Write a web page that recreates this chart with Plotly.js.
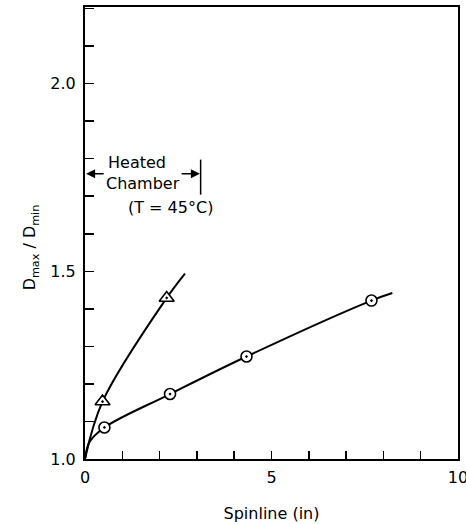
<!DOCTYPE html>
<html>
<head>
<meta charset="utf-8">
<script src="https://cdn.plot.ly/plotly-3.0.1.min.js"></script>
<style>html,body{margin:0;padding:0;background:#fff;}</style>
</head>
<body>
<div id="chart" style="width:466px;height:524px;"></div>
<script>
const triX = [0.47, 2.19];
const triY = [1.153, 1.429];
const circX = [0.52, 2.28, 4.33, 7.68];
const circY = [1.084, 1.173, 1.273, 1.422];
// Points
const triCurveX = [0, 0.47, 2.19, 2.68];
const triCurveY = [1.0, 1.153, 1.429, 1.494];
const circCurveX = [0, 0.12, 0.52, 2.28, 4.33, 7.68, 8.24];
const circCurveY = [1.0, 1.045, 1.084, 1.173, 1.273, 1.422, 1.442];
// Tick labels
const xTickVals = [0, 5, 10];
const xTickText = ['0', '5', '10'];
const yTickVals = [1.0, 1.5, 2.0];
const yTickText = ['1.0', '1.5', '2.0'];

const FONT = 'DejaVu Sans, Arial, sans-serif';

const traces = [
  {x: triCurveX, y: triCurveY, mode: 'lines', line: {color: '#000', width: 2, shape: 'spline', smoothing: 1}, hoverinfo: 'skip'},
  {x: circCurveX, y: circCurveY, mode: 'lines', line: {color: '#000', width: 2, shape: 'spline', smoothing: 1}, hoverinfo: 'skip'},
  {x: triX, y: triY, mode: 'markers', marker: {symbol: 'triangle-up-dot', size: 13, color: '#fff', line: {color: '#000', width: 1.6}}},
  {x: circX, y: circY, mode: 'markers', marker: {symbol: 'circle-dot', size: 11, color: '#fff', line: {color: '#000', width: 1.6}}}
];

const layout = {
  width: 466, height: 524,
  margin: {l: 85, r: 7.5, t: 7, b: 64.7, pad: 0},
  paper_bgcolor: '#fff', plot_bgcolor: '#fff',
  showlegend: false,
  font: {family: FONT, color: '#000', size: 16},
  xaxis: {
    range: [0, 10], showgrid: false, zeroline: false,
    showline: true, linecolor: '#000', linewidth: 2, mirror: true,
    ticks: 'inside', ticklen: 8, tickwidth: 1.5, tickcolor: '#000',
    tickmode: 'array', tickvals: xTickVals, ticktext: xTickText,
    minor: {tick0: 0, dtick: 1, ticks: 'inside', ticklen: 8, tickwidth: 1.5, tickcolor: '#000', showgrid: false},
    ticklabeloverflow: 'allow', ticklabelstandoff: 3,
    tickfont: {family: FONT, size: 16, color: '#000'},
    title: {text: 'Spinline (in)', font: {family: FONT, size: 16, color: '#000'}, standoff: 22}
  },
  yaxis: {
    range: [1.0, 2.204], showgrid: false, zeroline: false,
    showline: true, linecolor: '#000', linewidth: 2, mirror: true,
    ticks: 'inside', ticklen: 9, tickwidth: 1.5, tickcolor: '#000',
    tickmode: 'array', tickvals: yTickVals, ticktext: yTickText,
    minor: {tick0: 1.0, dtick: 0.1, ticks: 'inside', ticklen: 9, tickwidth: 1.5, tickcolor: '#000', showgrid: false},
    tickfont: {family: FONT, size: 16, color: '#000'},
    ticklabelstandoff: 4
  },
  annotations: [
    {xref: 'paper', yref: 'paper', x: -0.18, y: 0.469, textangle: -90, showarrow: false,
     text: 'D<sub>max</sub> / D<sub>min</sub>', font: {family: FONT, size: 16, color: '#000'}},
    {x: 1.406, y: 1.791, text: 'Heated', showarrow: false, font: {family: FONT, size: 16, color: '#000'}},
    {x: 1.563, y: 1.7335, text: 'Chamber', showarrow: false, font: {family: FONT, size: 16, color: '#000'}},
    {x: 2.298, y: 1.671, text: '(T = 45°C)', showarrow: false, font: {family: FONT, size: 16, color: '#000'}},
    {x: 0.03, y: 1.76, ax: 0.54, ay: 1.76, axref: 'x', ayref: 'y', text: '', showarrow: true,
     arrowhead: 2, arrowsize: 1.2, arrowwidth: 1.5, arrowcolor: '#000'},
    {x: 3.08, y: 1.76, ax: 2.55, ay: 1.76, axref: 'x', ayref: 'y', text: '', showarrow: true,
     arrowhead: 2, arrowsize: 1.2, arrowwidth: 1.5, arrowcolor: '#000'}
  ],
  shapes: [
    {type: 'line', xref: 'x', yref: 'y', x0: 3.1, x1: 3.1, y0: 1.704, y1: 1.7975, line: {color: '#000', width: 1.5}}
  ]
};

Plotly.newPlot('chart', traces, layout, {staticPlot: true, displayModeBar: false});
</script>
</body>
</html>
